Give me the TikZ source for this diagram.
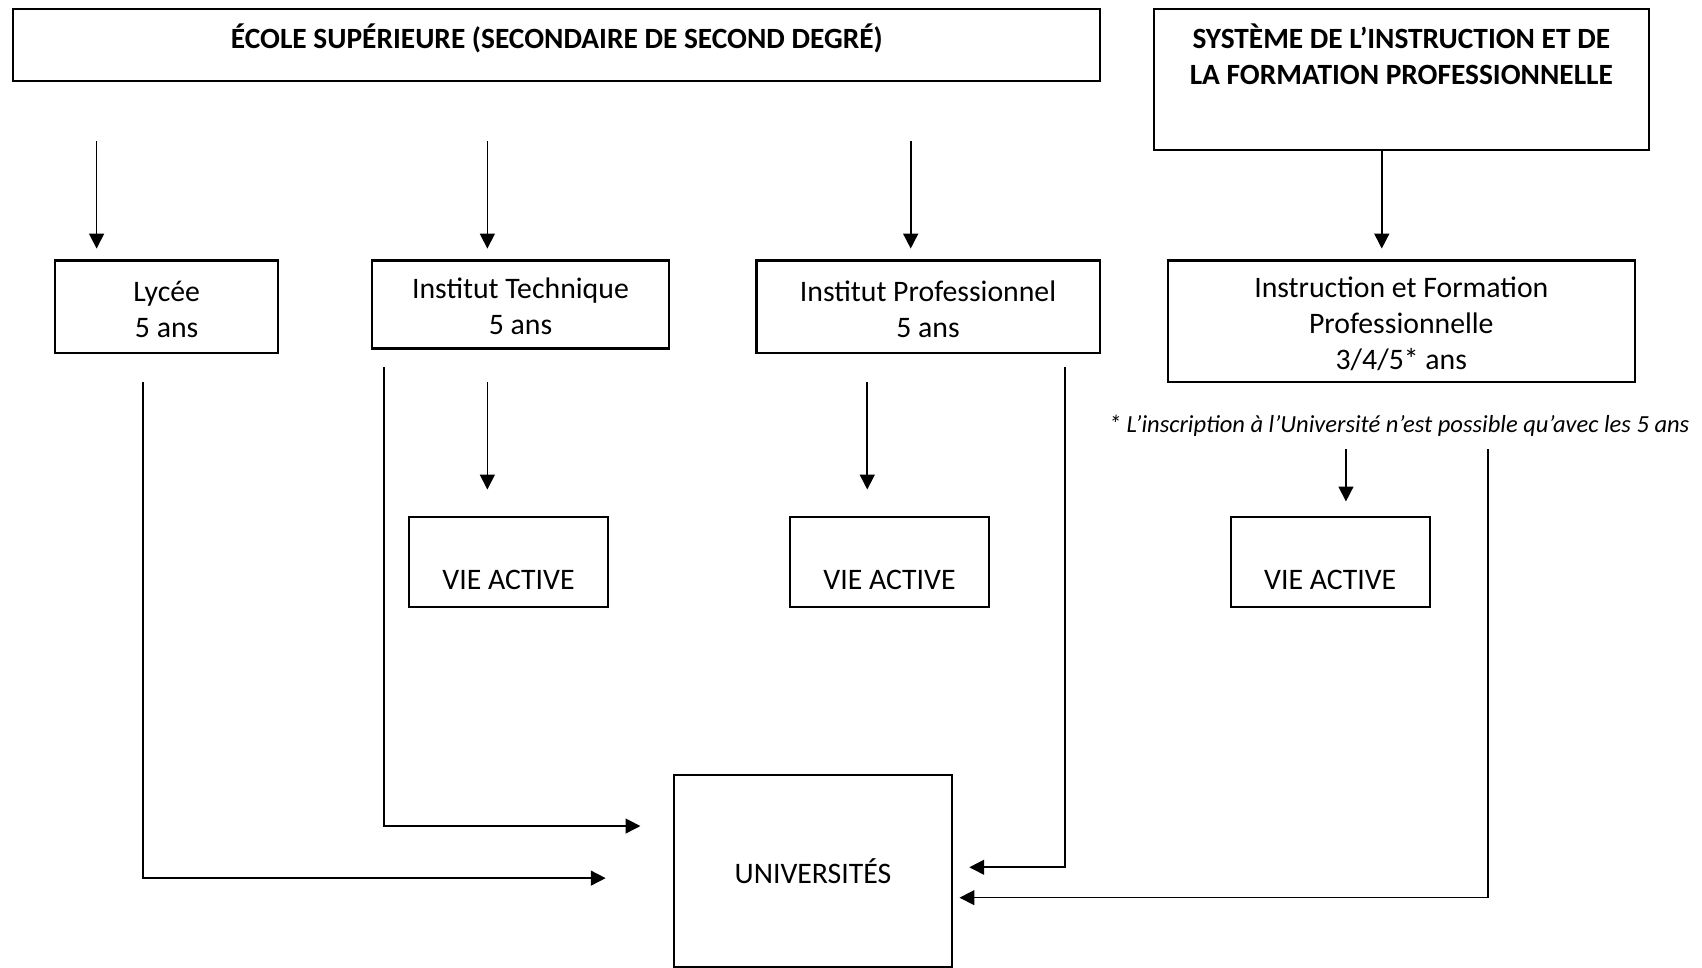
\documentclass[tikz,border=0pt]{standalone}
\usepackage{fontspec}
\setmainfont{Carlito}
\usetikzlibrary{arrows.meta}
\begin{document}
\begin{tikzpicture}[x=0.01cm,y=-0.01cm,
  box/.style={draw, line width=0.55pt, inner sep=0pt, outer sep=0pt, align=center, font=\fontsize{7.8}{9.4}\selectfont},
  hdr/.style={align=center, inner sep=0pt, font=\bfseries\fontsize{7.7}{9.65}\selectfont},
  note/.style={inner sep=0pt, font=\itshape\fontsize{6.43}{7.8}\selectfont},
  arr/.style={line width=0.42pt, -{Triangle[length=3.9pt,width=3.9pt]}},
  ln/.style={line width=0.42pt}]
\useasboundingbox (0,0) rectangle (1568,891);
% boxes
\node[box, minimum width=10.01cm, minimum height=0.67cm] (ecole) at (512.5,41.5) {};
\node[hdr] (ecoleT) at (513,35) {ÉCOLE SUPÉRIEURE (SECONDAIRE DE SECOND DEGRÉ)};
\node[box, minimum width=4.56cm, minimum height=1.30cm] (systeme) at (1291,73) {};
\node[hdr] (systemeT) at (1291,50) {SYSTÈME DE L’INSTRUCTION ET DE\\LA FORMATION PROFESSIONNELLE};
\node[box, minimum width=2.05cm, minimum height=0.85cm] (lycee) at (153.5,282.5) {\strut Lycée\\5 ans};
\node[box, minimum width=2.73cm, minimum height=0.81cm] (tech) at (479.5,280.5) {\strut Institut Technique\\5 ans};
\node[box, minimum width=3.16cm, minimum height=0.85cm] (pro) at (855,282.5) {\strut Institut Professionnel\\5 ans};
\node[box, minimum width=4.30cm, minimum height=1.12cm] (ifp) at (1291,296) {\strut Instruction et Formation\\Professionnelle\\3/4/5* ans};
\node[note] (foot) at (1289,392) {* L’inscription à l’Université n’est possible qu’avec les 5 ans};
\node[box, minimum width=1.83cm, minimum height=0.83cm] (va1) at (468.5,517.5) {\rule{0pt}{5pt}\\VIE ACTIVE};
\node[box, minimum width=1.83cm, minimum height=0.83cm] (va2) at (819.5,517.5) {\rule{0pt}{5pt}\\VIE ACTIVE};
\node[box, minimum width=1.83cm, minimum height=0.83cm] (va3) at (1225.5,517.5) {\rule{0pt}{5pt}\\VIE ACTIVE};
\node[box, line width=0.4pt, minimum width=2.56cm, minimum height=1.77cm] (univ) at (749,802.5) {UNIVERSITÉS};
% free ends
\coordinate (a1s) at (89,130);  \coordinate (a1e) at (89,229);
\coordinate (a2s) at (449,130); \coordinate (a2e) at (449,229);
\coordinate (a3s) at (839,130); \coordinate (a3e) at (839,229);
\coordinate (a4e) at (1273,229);
\coordinate (tvS) at (449,352); \coordinate (tvE) at (449,451);
\coordinate (pvS) at (799,352); \coordinate (pvE) at (799,451);
\coordinate (ivS) at (1240,414); \coordinate (ivE) at (1240,462);
\coordinate (lyS) at (132,352); \coordinate (lyE) at (558,809);
\coordinate (tS) at (354,338);  \coordinate (tE) at (590,761);
\coordinate (pS) at (981,338);  \coordinate (pE) at (893,799);
\coordinate (iS) at (1371,414); \coordinate (iE) at (884,827);
% arrows
\draw[arr] (a1s) -- (a1e);
\draw[arr] (a2s) -- (a2e);
\draw[arr] (a3s) -- (a3e);
\draw[arr] (systeme.south -| a4e) -- (a4e);
\draw[arr] (tvS) -- (tvE);
\draw[arr] (pvS) -- (pvE);
\draw[arr] (ivS) -- (ivE);
\draw[arr] (lyS) |- (lyE);
\draw[arr] (tS) |- (tE);
\draw[arr] (pS) |- (pE);
\draw[arr] (iS) |- (iE);
\end{tikzpicture}
\end{document}
